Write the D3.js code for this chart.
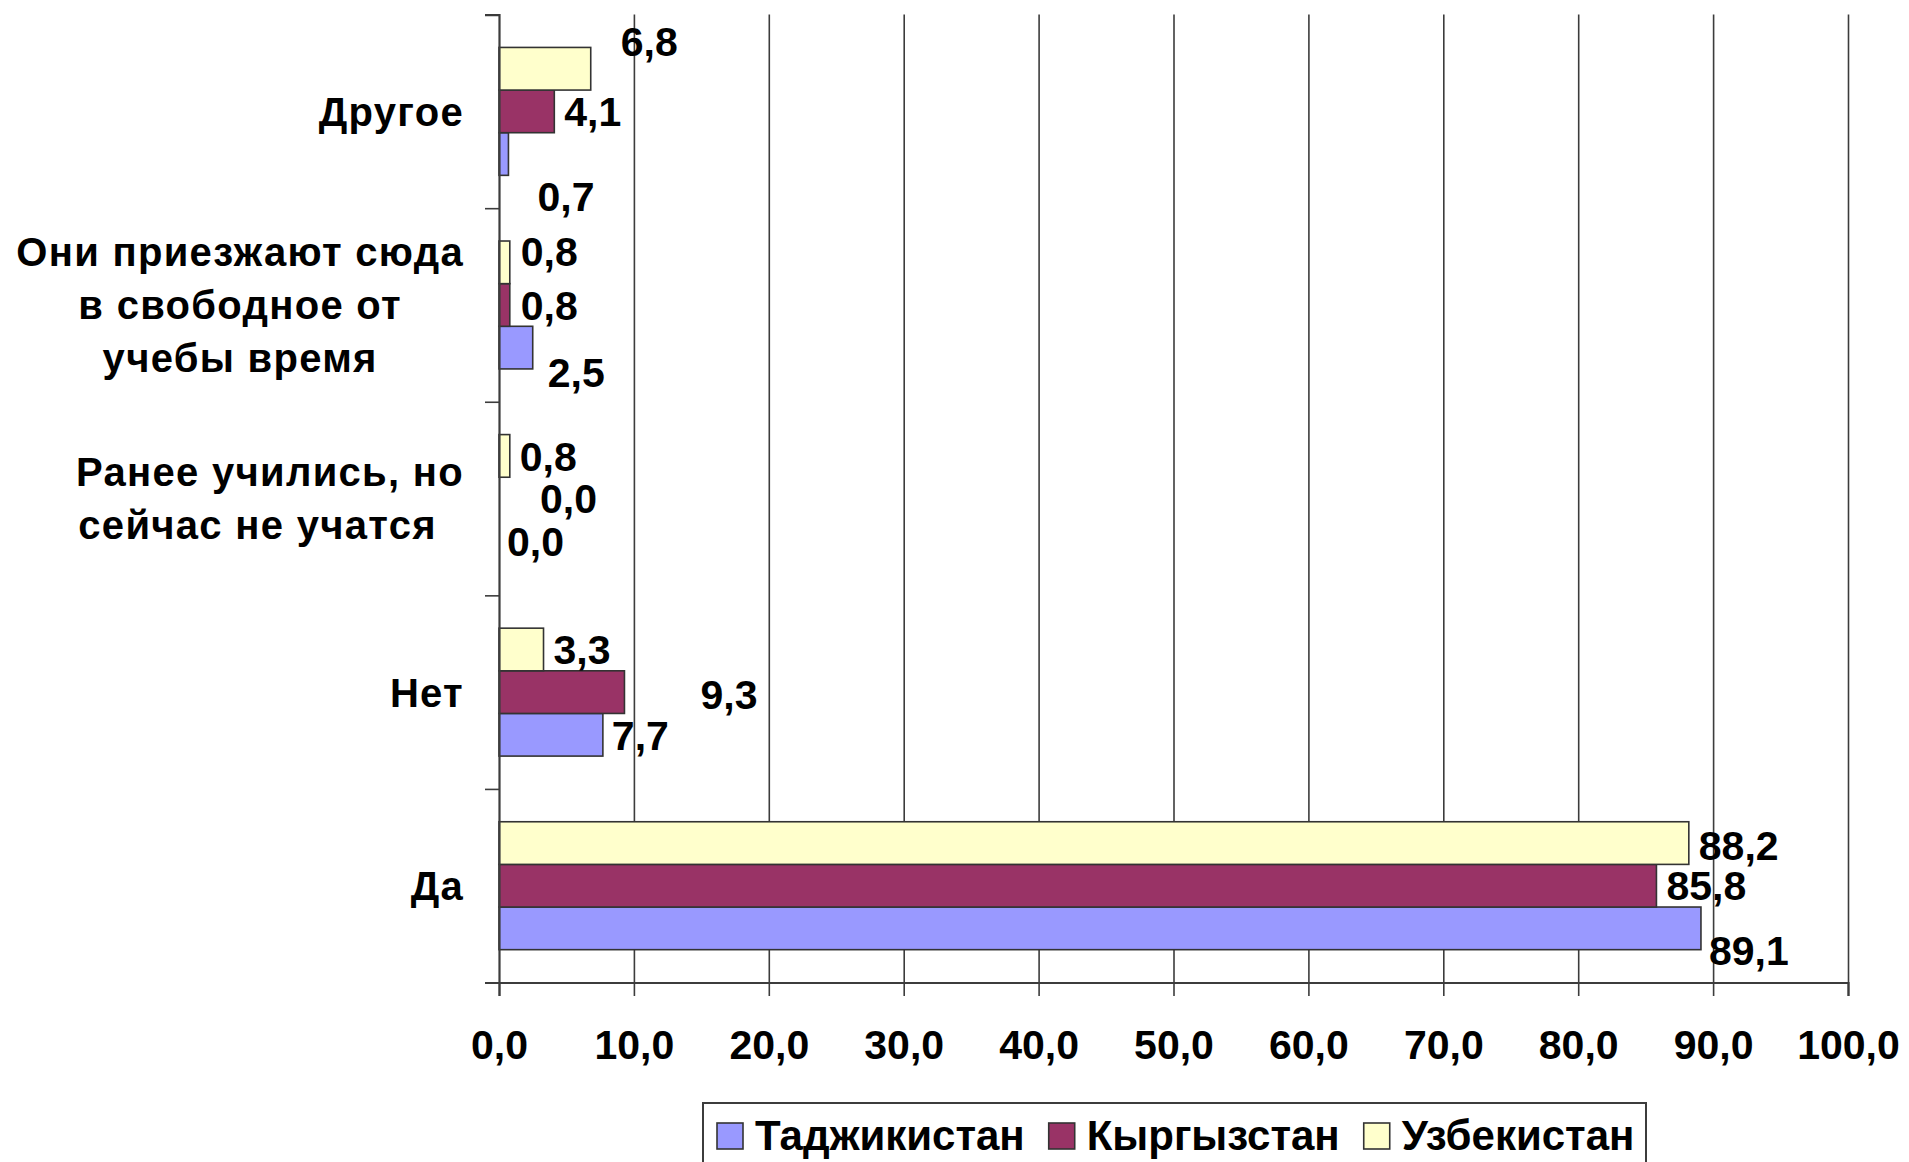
<!DOCTYPE html>
<html>

<head>
  <meta charset="utf-8" />
  <script src="https://d3js.org/d3.v7.min.js"></script>
  <style>
    body { margin: 0; background: #fff; }
    text { font-family: "Liberation Sans", Arial, sans-serif; font-weight: bold; fill: #000; }
  </style>
</head>

<body>
  <svg id="chart" width="1909" height="1162"></svg>

  <script>
    // categories, top to bottom
    const categories = ["Другое", "Они приезжают сюда в свободное от учебы время", "Ранее учились, но сейчас не учатся", "Нет", "Да"];
    const categoryLines = [
      ["Другое"],
      ["Они приезжают сюда", "в свободное от", "учебы время"],
      ["Ранее учились, но", "сейчас не учатся\u00a0\u00a0"],
      ["Нет"],
      ["Да"]
    ];
    const seriesNames = ["Таджикистан", "Кыргызстан", "Узбекистан"];
    const tajikistan = [0.7, 2.5, 0.0, 7.7, 89.1];
    const kyrgyzstan = [4.1, 0.8, 0.0, 9.3, 85.8];
    const uzbekistan = [6.8, 0.8, 0.8, 3.3, 88.2];
    const xTicks = [0, 10, 20, 30, 40, 50, 60, 70, 80, 90, 100];

    const colors = { "Таджикистан": "#9999ff", "Кыргызстан": "#993366", "Узбекистан": "#ffffcc" };
    // manual label nudges (dx, dy) per series and category, as in the original chart
    const labelNudge = {
      "Таджикистан": [[19, 42], [5, 25], [-2, 0], [-1, 0], [-2, 22]],
      "Кыргызстан": [[0, 0], [1, 0], [31, 0], [66, 2], [0, 0]],
      "Узбекистан": [[20, -28], [1, -11], [0, 0], [0, 0], [0, 2]]
    };

    const seriesValues = { "Таджикистан": tajikistan, "Кыргызстан": kyrgyzstan, "Узбекистан": uzbekistan };

    const svg = d3.select("#chart");
    const plotLeft = 499, plotRight = 1848, plotTop = 14.6, plotBottom = 982.5;
    const axisColor = "#3c3c3c";

    const x = d3.scaleLinear().domain([0, 100]).range([plotLeft, plotRight]);
    const y = d3.scaleBand().domain(categories).range([plotTop, plotBottom]).padding(0);
    // within a category: Узбекистан on top, Таджикистан at the bottom
    const ySub = d3.scaleBand().domain(["Узбекистан", "Кыргызстан", "Таджикистан"])
      .range([0, y.bandwidth()]).paddingInner(0).paddingOuter(0.77);
    const yEdge = d3.scaleLinear().domain([0, categories.length]).range([plotTop, plotBottom]);

    // gridlines
    const grid = svg.append("g").attr("transform", "translate(0," + plotTop + ")")
      .call(d3.axisBottom(x).tickValues(xTicks.slice(1)).tickSize(plotBottom - plotTop).tickFormat(""));
    grid.select(".domain").remove();
    grid.selectAll("line").attr("stroke", axisColor).attr("stroke-width", 1.6);

    // bars
    const rows = [];
    seriesNames.forEach(s => {
      categories.forEach((c, i) => rows.push({ series: s, cat: c, i: i, value: seriesValues[s][i] }));
    });

    svg.append("g").selectAll("rect")
      .data(rows)
      .join("rect")
      .attr("x", x(0))
      .attr("y", d => y(d.cat) + ySub(d.series))
      .attr("width", d => x(d.value) - x(0))
      .attr("height", ySub.bandwidth())
      .attr("fill", d => colors[d.series])
      .attr("stroke", "#333")
      .attr("stroke-width", 1.6)
      .attr("visibility", d => d.value > 0 ? "visible" : "hidden");

    // x axis
    const xAxis = svg.append("g").attr("transform", "translate(0," + plotBottom + ")")
      .call(d3.axisBottom(x).tickValues(xTicks).tickSize(13.5).tickPadding(34)
        .tickFormat(d => d.toFixed(1).replace(".", ",")));
    xAxis.select(".domain").attr("stroke", axisColor).attr("stroke-width", 2.2);
    xAxis.selectAll("line").attr("stroke", axisColor).attr("stroke-width", 1.6);
    xAxis.selectAll("text").attr("font-size", 41).attr("fill", "#000")
      .attr("font-family", "'Liberation Sans', Arial, sans-serif").attr("font-weight", "bold");

    // y axis with ticks on the category edges
    const yAxis = svg.append("g").attr("transform", "translate(" + plotLeft + ",0)")
      .call(d3.axisLeft(yEdge).ticks(categories.length).tickSize(14).tickFormat(""));
    yAxis.select(".domain").attr("stroke", axisColor).attr("stroke-width", 2.2);
    yAxis.selectAll("line").attr("stroke", axisColor).attr("stroke-width", 1.6);

    // category labels
    const lineH = 53;
    const labelRight = 464;
    categoryLines.forEach((lines, i) => {
      const t = svg.append("text").attr("font-size", 40).attr("letter-spacing", 1.3)
        .attr("text-anchor", "middle");
      const cy = y(categories[i]) + y.bandwidth() / 2;
      const spans = lines.map((l, k) => t.append("tspan")
        .attr("y", cy + (k - (lines.length - 1) / 2) * lineH).attr("dy", "0.36em").text(l));
      const widths = spans.map(s => s.node().getComputedTextLength());
      const cx = labelRight - d3.max(widths) / 2;
      spans.forEach(s => s.attr("x", cx));
    });

    // value labels
    svg.append("g").selectAll("text")
      .data(rows)
      .join("text")
      .attr("font-size", 41)
      .attr("x", d => x(d.value) + 10 + labelNudge[d.series][d.i][0])
      .attr("y", d => y(d.cat) + ySub(d.series) + ySub.bandwidth() / 2 + labelNudge[d.series][d.i][1])
      .attr("dy", "0.36em")
      .text(d => d.value.toFixed(1).replace(".", ","));

    // legend
    const legend = svg.append("g");
    legend.append("rect")
      .attr("x", 703).attr("y", 1103).attr("width", 943).attr("height", 90)
      .attr("fill", "#fff").attr("stroke", axisColor).attr("stroke-width", 2);
    let lx = 717;
    seriesNames.forEach(s => {
      legend.append("rect").attr("x", lx).attr("y", 1123).attr("width", 26).attr("height", 26)
        .attr("fill", colors[s]).attr("stroke", "#333").attr("stroke-width", 1.6);
      const t = legend.append("text").attr("x", lx + 38).attr("y", 1150)
        .attr("font-size", 42).text(s);
      lx += 38 + t.node().getComputedTextLength() + 24;
    });
  </script>
</body>

</html>
